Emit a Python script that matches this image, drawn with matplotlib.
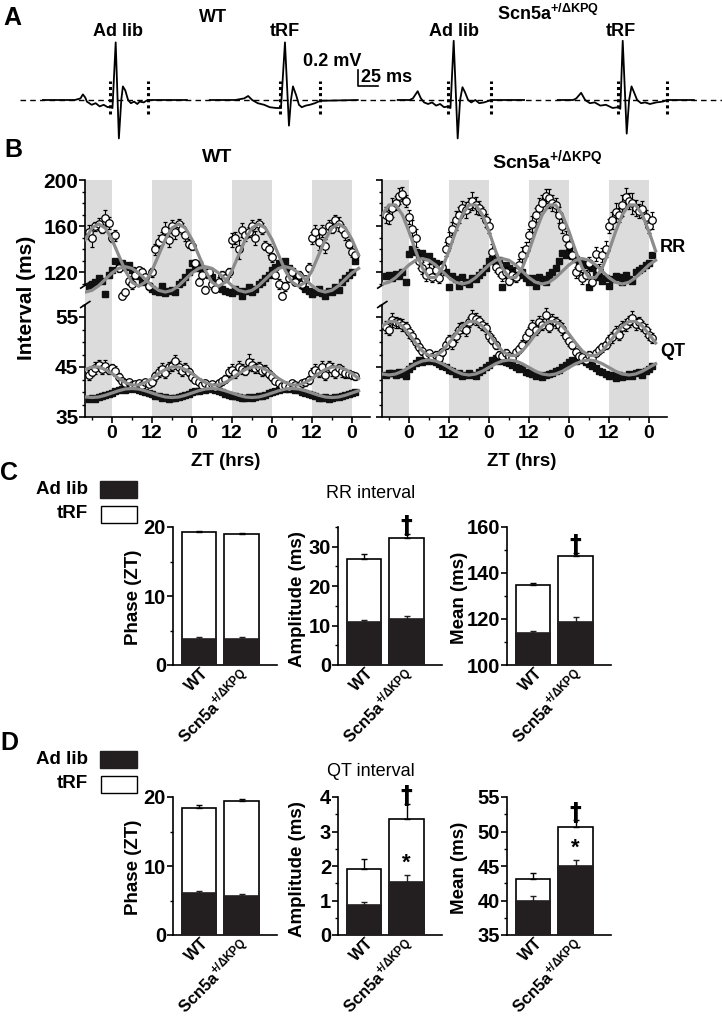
import numpy as np
import matplotlib
matplotlib.use("Agg")
import matplotlib.pyplot as plt
from matplotlib.patches import Rectangle
from matplotlib.ticker import FixedLocator
from matplotlib.transforms import blended_transform_factory, ScaledTranslation

W, H = 722, 1017
plt.rcParams['font.family'] = ['Liberation Sans', 'DejaVu Sans']
plt.rcParams['font.weight'] = 'bold'
plt.rcParams['axes.linewidth'] = 1.2
plt.rcParams['mathtext.fontset'] = 'custom'
plt.rcParams['mathtext.default'] = 'bf'
plt.rcParams['mathtext.bf'] = 'Liberation Sans:bold'
plt.rcParams['mathtext.rm'] = 'Liberation Sans:bold'
NARROW = ['Liberation Sans Narrow', 'Liberation Sans', 'DejaVu Sans']
SCN = 'Scn5a$^{+/ΔKPQ}$'
GROUPS = ['WT', SCN]

# ---- panel A: one averaged beat per group/condition (ms from R peak, mV) ----
ECG_MS = [
    [-91, -51, -44, -41, -38, -36, -30, -25, -20, -15, -10, -6, -4, 0, 4, 7, 9, 12, 15.5, 19, 23, 27, 30, 35, 40, 89],
    [-94, -62, -51, -46, -41, -34, -26, -19, -11, -5, 0, 5, 7.5, 10, 14, 17.5, 21, 26, 31, 37.5, 44, 91],
    [-70, -55, -51, -45, -41, -37, -32, -27, -22, -17, -12, -7, -4, 0, 5, 8, 11, 14, 18, 22, 27, 32, 38, 47, 88],
    [-81, -62, -58, -52, -47, -41, -35, -28, -21, -12.5, -6, -3, 0, 5, 8, 11, 14, 18, 23, 28, 34, 42, 50, 56, 89],
]
ECG_MV = [
    [0, 0, 0.02, 0.07, 0.03, -0.02, -0.06, -0.04, -0.08, -0.06, -0.09, -0.08, -0.1, 0.72, -0.48, 0.0, 0.17, 0.12, 0.0, -0.04, -0.02, -0.05, -0.02, -0.03, 0.0, 0],
    [0, 0, 0.02, 0.05, 0.0, -0.04, -0.06, -0.09, -0.1, -0.1, 0.72, -0.32, 0.0, 0.17, 0.06, -0.06, -0.09, -0.07, -0.06, -0.04, -0.01, 0],
    [0, 0, 0.02, 0.11, 0.02, -0.03, -0.05, -0.03, -0.07, -0.05, -0.09, -0.08, -0.1, 0.74, -0.48, 0.0, 0.16, 0.1, 0.0, -0.03, 0.0, -0.04, -0.03, 0.0, 0],
    [0, 0, 0.02, 0.09, 0.0, -0.04, -0.03, -0.07, -0.06, -0.1, -0.09, -0.11, 0.74, -0.42, 0.0, 0.17, 0.1, 0.0, -0.04, -0.03, -0.05, -0.03, -0.02, 0.0, 0],
]
QT_ON = [-7, -6, -7, -6]
QT_END = [40, 44, 47, 55.5]
ECG_LABELS = ['Ad lib', 'tRF', 'Ad lib', 'tRF']

# ---- panel B: hourly means, ZT hours relative to first light onset ----
HOURS = np.arange(-7, 74)
WT_RR_TRF = [155, 150, 160, 162, 158, 167, 163,
             150, 152, 124, 100, 103, 113, 110, 118, 122, 120, 116, 108,
             120, 140, 146, 150, 157, 148, 160, 155, 162, 158, 152, 145,
             143, 128, 112, 118, 105, 120, 110, 106, 112, 118, 115, 120,
             148, 150, 140, 157, 152, 155, 160, 150, 162, 158, 143, 140,
             133, 118, 110, 100, 108, 115, 120, 112, 118, 110, 114, 124,
             150, 155, 146, 156, 143, 160, 158, 165, 162, 158, 153, 145,
             138, 135]
WT_RR_TRF_ERR = [6, 8, 4, 5, 4, 7, 5,
                 4, 5, 4, 3, 3, 4, 4, 3, 3, 4, 3, 3,
                 4, 5, 6, 5, 7, 6, 5, 6, 4, 5, 5, 4,
                 4, 3, 3, 4, 3, 3, 4, 3, 4, 3, 3, 4,
                 6, 5, 8, 6, 5, 4, 5, 6, 4, 5, 4, 5,
                 4, 3, 4, 3, 4, 3, 4, 3, 3, 4, 3, 4,
                 5, 6, 7, 5, 6, 5, 4, 5, 6, 4, 5, 4,
                 5, 4]
WT_RR_ADLIB = [108, 110, 112, 115, 113, 101, 118,
               122, 130, 127, 128, 125, 126, 122, 118, 117, 112, 113, 108,
               106, 104, 103, 108, 102, 104, 105, 103, 110, 112, 116, 120,
               128, 124, 127, 122, 120, 118, 116, 110, 108, 106, 104, 103,
               102, 106, 104, 100, 104, 107, 103, 106, 110, 112, 115, 118,
               122, 125, 128, 127, 130, 124, 121, 117, 113, 109, 106, 104,
               101, 103, 106, 102, 100, 104, 103, 107, 105, 112, 115, 118,
               120, 130]
WT_QT_TRF = [43.5, 44.0, 44.8, 45.5, 44.6, 45.3, 44.5,
             44.8, 44.2, 43.0, 42.2, 41.8, 42.0, 41.5, 41.6, 41.8, 41.4, 42.0, 41.7,
             42.0, 43.2, 44.0, 44.6, 43.8, 45.0, 45.3, 46.2, 45.0, 44.2, 44.8, 44.0,
             43.0, 42.5, 42.0, 41.5, 41.8, 41.2, 41.6, 41.0, 41.8, 42.2, 42.6, 44.0,
             44.5, 43.8, 45.0, 44.6, 44.3, 46.0, 45.4, 44.8, 45.0, 44.2, 44.5, 43.6,
             43.0, 42.2, 41.8, 41.2, 41.5, 41.0, 41.8, 41.5, 41.2, 41.8, 42.0, 42.5,
             43.8, 44.5, 44.0, 45.0, 43.5, 45.2, 44.6, 43.8, 44.8, 44.2, 43.8, 43.6,
             43.4, 43.2]
WT_QT_TRF_ERR = [1.0, 0.8, 1.2, 1.0, 0.9, 1.1, 0.8,
                 0.9, 1.0, 0.8, 0.6, 0.7, 0.6, 0.5, 0.6, 0.5, 0.6, 0.5, 0.6,
                 0.7, 0.9, 1.0, 1.2, 0.9, 1.1, 1.0, 1.3, 1.2, 0.9, 1.0, 0.8,
                 0.8, 0.7, 0.6, 0.5, 0.6, 0.5, 0.6, 0.5, 0.6, 0.7, 0.8, 1.0,
                 1.1, 0.9, 1.2, 1.0, 0.9, 1.6, 1.2, 1.0, 1.1, 0.9, 1.0, 0.8,
                 0.8, 0.6, 0.7, 0.5, 0.6, 0.5, 0.6, 0.5, 0.6, 0.6, 0.7, 0.8,
                 1.0, 1.1, 0.9, 1.2, 1.0, 1.1, 1.3, 1.0, 0.9, 1.1, 0.9, 0.8,
                 0.7, 0.7]
WT_QT_ADLIB = [38.6, 38.9, 38.7, 39.0, 39.2, 39.4, 39.7,
               39.8, 40.2, 40.4, 40.6, 40.5, 40.8, 40.6, 40.9, 40.4, 40.3, 40.0, 39.9,
               39.6, 39.3, 39.2, 38.9, 39.0, 38.7, 38.9, 38.8, 39.1, 39.3, 39.4, 39.7,
               40.0, 40.2, 40.3, 40.6, 40.5, 40.8, 40.6, 40.4, 40.2, 40.0, 39.7, 39.5,
               39.2, 39.3, 39.0, 38.8, 38.9, 39.0, 38.8, 39.1, 39.3, 39.2, 39.5, 39.8,
               40.0, 40.3, 40.5, 40.8, 40.6, 40.7, 40.9, 40.5, 40.4, 40.1, 39.8, 39.6,
               39.4, 39.2, 38.9, 38.8, 39.0, 38.7, 38.9, 39.1, 39.0, 39.3, 39.4, 39.6,
               39.8, 40.0]
KPQ_RR_TRF = [170, 168, 176, 180, 186, 188, 182,
              168, 158, 150, 130, 124, 118, 121, 116, 122, 115, 125, 140,
              148, 158, 165, 170, 176, 174, 178, 182, 178, 176, 172, 165,
              160, 138, 125, 121, 118, 120, 113, 118, 116, 126, 135, 140,
              152, 162, 170, 176, 180, 186, 184, 180, 178, 170, 160, 150,
              144, 135, 120, 125, 115, 118, 128, 112, 136, 122, 135, 140,
              160, 165, 172, 170, 178, 185, 182, 180, 176, 173, 175, 168,
              160, 165]
KPQ_RR_TRF_ERR = [7, 6, 8, 6, 7, 6, 5,
                  6, 7, 8, 6, 5, 5, 6, 4, 5, 4, 5, 6,
                  7, 6, 8, 7, 6, 7, 6, 8, 7, 6, 5, 6,
                  6, 7, 5, 4, 5, 5, 4, 5, 4, 6, 7, 6,
                  6, 7, 6, 8, 7, 6, 8, 7, 6, 7, 6, 6,
                  5, 6, 5, 4, 5, 4, 5, 4, 6, 5, 6, 7,
                  6, 7, 8, 6, 9, 8, 7, 9, 7, 6, 7, 6,
                  6, 7]
KPQ_RR_ADLIB = [117, 118, 115, 119, 117, 120, 112,
                136, 140, 138, 136, 137, 133, 134, 130, 128, 126, 122, 120,
                107, 117, 114, 108, 116, 112, 110, 115, 114, 118, 120, 124,
                130, 132, 128, 131, 107, 126, 124, 122, 116, 118, 120, 115,
                112, 115, 108, 116, 114, 112, 118, 120, 124, 130, 137, 135,
                138, 134, 132, 130, 128, 126, 107, 124, 118, 116, 113, 115,
                108, 114, 117, 116, 112, 118, 114, 113, 120, 122, 124, 126,
                128, 135]
KPQ_QT_TRF = [53.0, 52.5, 54.5, 54.0, 53.8, 53.5, 53.0,
              52.0, 51.2, 50.0, 49.0, 48.2, 47.5, 47.8, 47.0, 47.5, 46.8, 48.0, 49.5,
              50.5, 49.8, 51.2, 52.5, 53.0, 52.4, 54.0, 55.0, 54.6, 54.2, 53.5, 52.8,
              51.2, 50.5, 49.5, 47.5, 47.3, 47.8, 47.2, 46.8, 48.0, 48.6, 49.5, 51.0,
              52.0, 53.2, 52.5, 54.0, 53.5, 55.5, 53.0, 54.5, 54.0, 53.5, 52.6, 51.2,
              50.2, 49.5, 48.0, 47.2, 47.0, 46.5, 47.4, 46.8, 47.8, 48.4, 49.0, 49.5,
              50.5, 51.0, 52.0, 51.5, 53.0, 53.5, 54.2, 54.8, 53.6, 54.0, 53.2, 52.5,
              51.5, 50.8]
KPQ_QT_TRF_ERR = [1.2, 1.0, 1.4, 1.1, 1.0, 1.2, 1.0,
                  1.1, 1.0, 0.9, 0.8, 0.7, 0.8, 0.7, 0.6, 0.7, 0.6, 0.7, 0.8,
                  1.0, 1.1, 1.2, 1.3, 1.1, 1.2, 1.0, 1.4, 1.2, 1.1, 1.0, 1.1,
                  1.0, 0.9, 0.8, 0.7, 0.6, 0.8, 0.7, 0.6, 0.7, 0.8, 0.9, 1.0,
                  1.1, 1.2, 1.0, 1.3, 1.1, 1.4, 1.0, 1.2, 1.1, 1.0, 1.2, 1.0,
                  0.9, 0.8, 0.7, 0.8, 0.6, 0.7, 0.8, 0.7, 0.6, 0.8, 0.9, 0.8,
                  1.0, 1.1, 1.2, 1.0, 1.3, 1.2, 1.1, 1.4, 1.2, 1.1, 1.0, 1.2,
                  1.1, 1.0]
KPQ_QT_ADLIB = [43.5, 43.8, 43.9, 43.4, 44.0, 43.6, 43.2,
                44.6, 45.2, 45.8, 46.4, 46.0, 46.6, 46.2, 46.8, 46.0, 45.7, 45.2, 45.0,
                44.5, 44.2, 43.6, 43.8, 43.2, 43.5, 43.9, 43.4, 43.2, 44.0, 44.4, 45.0,
                45.5, 46.5, 46.8, 46.2, 46.5, 46.0, 45.8, 45.4, 45.0, 44.6, 44.8, 44.0,
                43.8, 43.6, 43.2, 43.4, 43.0, 43.5, 43.6, 43.8, 44.2, 44.5, 45.0, 45.5,
                46.0, 46.4, 46.2, 46.8, 46.5, 46.0, 45.6, 45.2, 44.8, 44.2, 44.0, 43.6,
                43.2, 43.4, 42.9, 43.5, 43.0, 43.3, 43.6, 43.2, 43.8, 44.0, 43.5, 44.2,
                44.6, 45.3]

# cosinor fits, one 24 h cycle read at ZT 0, 2, ..., 22
WT_RR_TRF_FIT = [148.5, 135, 121.5, 111.6, 108, 111.6, 121.5, 135, 148.5, 158.4, 162, 158.4]
WT_RR_ADLIB_FIT = [119.5, 123.5, 125, 123.5, 119.5, 114, 108.5, 104.5, 103, 104.5, 108.5, 114]
KPQ_RR_TRF_FIT = [155.4, 138.6, 124, 115.6, 115.6, 124, 138.6, 155.4, 170, 178.4, 178.4, 170]
KPQ_RR_ADLIB_FIT = [126.5, 130.5, 132, 130.5, 126.5, 121, 115.5, 111.5, 110, 111.5, 115.5, 121]
WT_QT_TRF_FIT = [43.7, 42.7, 41.9, 41.4, 41.4, 41.9, 42.7, 43.7, 44.5, 45.0, 45.0, 44.5]
WT_QT_ADLIB_FIT = [39.8, 40.25, 40.6, 40.7, 40.6, 40.25, 39.8, 39.35, 39.0, 38.9, 39.0, 39.35]
KPQ_QT_TRF_FIT = [51.6, 49.8, 48.2, 47.3, 47.3, 48.2, 49.8, 51.6, 53.2, 54.1, 54.1, 53.2]
KPQ_QT_ADLIB_FIT = [44.9, 45.65, 46.2, 46.4, 46.2, 45.65, 44.9, 44.15, 43.6, 43.4, 43.6, 44.15]
FIT_T = np.arange(-8, 75, 2)
DARK = [(-12, 0), (12, 24), (36, 48), (60, 72)]

# ---- panels C and D: cosinor parameters (WT, Scn5a) ----
RR_PHASE_ADLIB, RR_PHASE_ADLIB_ERR = [3.8, 3.75], [0.3, 0.35]
RR_PHASE_TRF, RR_PHASE_TRF_ERR = [19.25, 18.95], [0.2, 0.2]
RR_AMP_ADLIB, RR_AMP_ADLIB_ERR = [11.0, 11.6], [0.5, 0.8]
RR_AMP_TRF, RR_AMP_TRF_ERR = [27.0, 32.3], [1.2, 0.9]
RR_MEAN_ADLIB, RR_MEAN_ADLIB_ERR = [114.0, 118.9], [0.9, 1.8]
RR_MEAN_TRF, RR_MEAN_TRF_ERR = [134.7, 147.3], [0.8, 1.4]
QT_PHASE_ADLIB, QT_PHASE_ADLIB_ERR = [6.05, 5.6], [0.35, 0.4]
QT_PHASE_TRF, QT_PHASE_TRF_ERR = [18.35, 19.4], [0.45, 0.25]
QT_AMP_ADLIB, QT_AMP_ADLIB_ERR = [0.87, 1.55], [0.1, 0.19]
QT_AMP_TRF, QT_AMP_TRF_ERR = [1.92, 3.37], [0.27, 0.42]
QT_MEAN_ADLIB, QT_MEAN_ADLIB_ERR = [39.9, 44.95], [0.75, 0.95]
QT_MEAN_TRF, QT_MEAN_TRF_ERR = [43.05, 50.7], [1.0, 0.9]

fig = plt.figure(figsize=(W / 100, H / 100), dpi=100)


def box(x0, y0, x1, y1):
    return [x0 / W, 1 - y1 / H, (x1 - x0) / W, (y1 - y0) / H]


def label(x, y, s, size, **kw):
    kw.setdefault('ha', 'center')
    kw.setdefault('va', 'center')
    fig.text(x / W, 1 - y / H, s, fontsize=size, **kw)


# ================= A =================
MS_PER_PX = 1.25
R_POS = [144.6, 356.2, 567.1, 778.4]
axA = fig.add_axes(box(0, 0, W, 150))
axA.set_xlim(0, W * MS_PER_PX)
axA.set_ylim(-50 / 80, 100 / 80)
axA.axis('off')
axA.axhline(0, xmin=20 / W, xmax=1, color='black', lw=1, ls=(0, (4, 3)), zorder=1)
for pos, ms, mv, qon, tend in zip(R_POS, ECG_MS, ECG_MV, QT_ON, QT_END):
    axA.plot(np.asarray(ms) + pos, mv, color='black', lw=1.3, zorder=3)
    axA.vlines([pos + qon, pos + tend], -0.18, 0.24, colors='black', lw=2.2,
               linestyles=(0, (1, 1)), zorder=2)
axA.plot([447.5, 447.5, 472.5], [0.375, 0.175, 0.175], color='black', lw=1.2)

label(12, 18, 'A', 18)
label(213, 17, 'WT', 13)
label(548, 14, SCN, 13)
for x, s in zip([118, 285, 454, 621], ECG_LABELS):
    label(x, 32, s, 13)
label(332, 61, '0.2 mV', 13)
label(361, 77, '25 ms', 13, ha='left')

# ================= B =================
label(13, 150, 'B', 18)


def zt_pair(x0, x1, show_labels):
    lo = fig.add_axes(box(x0, 296, x1, 417))
    up = fig.add_axes(box(x0, 180, x1, 296), sharex=lo)
    for ax in (lo, up):
        ax.set_xlim(-8, 77.5)
        ax.patch.set_visible(False)
        for a, b in DARK:
            ax.axvspan(a, b, color='#dcdcdc', lw=0, zorder=0)
        ax.spines['top'].set_visible(False)
        ax.spines['right'].set_visible(False)
        ax.tick_params(axis='y', which='major', length=4, width=1.2, pad=1,
                       labelsize=15, labelleft=show_labels)
        ax.tick_params(axis='y', which='minor', length=2.5, width=1)
    up.spines['bottom'].set_visible(False)
    up.tick_params(axis='x', which='both', bottom=False, labelbottom=False)
    up.set_ylim(99.6, 200)
    lo.set_ylim(35, 59.2)
    up.spines['left'].set_bounds(109, 200)
    lo.spines['left'].set_bounds(35, 57.5)
    up.yaxis.set_major_locator(FixedLocator([120, 160, 200]))
    up.yaxis.set_minor_locator(FixedLocator([110, 130, 140, 150, 170, 180, 190]))
    lo.yaxis.set_major_locator(FixedLocator([35, 45, 55]))
    lo.yaxis.set_minor_locator(FixedLocator([37.5, 40, 42.5, 47.5, 50, 52.5, 57.5]))
    lo.set_xticks(range(0, 73, 12))
    lo.set_xticklabels(['0', '12', '0', '12', '0', '12', '0'])
    lo.xaxis.set_minor_locator(FixedLocator([-6, 6, 18, 30, 42, 54, 66]))
    lo.tick_params(axis='x', which='major', length=4, width=1.2, pad=2, labelsize=14)
    lo.tick_params(axis='x', which='minor', length=2.5, width=1)
    for ax, yv, dy in [(up, 109, 2.6), (lo, 57.5, 0.6)]:
        tr = blended_transform_factory(ax.transAxes, ax.transData)
        ax.plot([-0.016, 0.016], [yv - dy, yv + dy], transform=tr, color='black',
                lw=1.2, clip_on=False)
    return up, lo


def draw(ax, trf, trf_err, trf_fit, adlib, adlib_fit):
    idx = ((FIT_T % 24) // 2).astype(int)
    ax.plot(HOURS, adlib, 's', color='#111111', ms=4.8, zorder=2, clip_on=False)
    ax.errorbar(HOURS, trf, yerr=trf_err, fmt='o', mfc='white', mec='black', ms=5.4,
                mew=0.9, ecolor='black', elinewidth=0.8, capsize=1.5, zorder=3, clip_on=False)
    ax.plot(FIT_T, np.asarray(adlib_fit)[idx], color='#8c8c8c', lw=2.3, zorder=4)
    ax.plot(FIT_T, np.asarray(trf_fit)[idx], color='#8c8c8c', lw=2.3, zorder=4)


wt_up, wt_lo = zt_pair(85.3, 370.3, True)
k_up, k_lo = zt_pair(382.3, 667.3, False)
draw(wt_up, WT_RR_TRF, WT_RR_TRF_ERR, WT_RR_TRF_FIT, WT_RR_ADLIB, WT_RR_ADLIB_FIT)
draw(wt_lo, WT_QT_TRF, WT_QT_TRF_ERR, WT_QT_TRF_FIT, WT_QT_ADLIB, WT_QT_ADLIB_FIT)
draw(k_up, KPQ_RR_TRF, KPQ_RR_TRF_ERR, KPQ_RR_TRF_FIT, KPQ_RR_ADLIB, KPQ_RR_ADLIB_FIT)
draw(k_lo, KPQ_QT_TRF, KPQ_QT_TRF_ERR, KPQ_QT_TRF_FIT, KPQ_QT_ADLIB, KPQ_QT_ADLIB_FIT)

label(217, 158, 'WT', 14)
label(547, 160, SCN, 14)
label(26, 298, 'Interval (ms)', 15, rotation=90)
label(226, 461, 'ZT (hrs)', 13.5)
label(522, 461, 'ZT (hrs)', 13.5)
label(673, 247, 'RR', 13)
label(673, 351, 'QT', 13)

# ================= C / D =================
BAR_X = np.arange(2)


def bar_panel(x0, y0, adlib, adlib_err, trf, trf_err, ylim, major, minor,
              dagger=False, star=False):
    ax = fig.add_axes(box(x0, y0, x0 + 104, y0 + 138))
    ax.set_xlim(-0.612, 1.835)
    ax.set_ylim(*ylim)
    ax.bar(BAR_X, trf, width=0.82, color='white', edgecolor='black', lw=1.2, zorder=2)
    ax.errorbar(BAR_X, trf, yerr=[np.zeros(2), trf_err], fmt='none', ecolor='black',
                elinewidth=1, capsize=2.5, capthick=1, zorder=2)
    ax.bar(BAR_X, adlib, width=0.82, color='#231f20', edgecolor='#231f20', lw=1.2, zorder=3)
    ax.errorbar(BAR_X, adlib, yerr=[np.zeros(2), adlib_err], fmt='none', ecolor='#231f20',
                elinewidth=1, capsize=2.5, capthick=1, zorder=3)
    ax.spines['top'].set_visible(False)
    ax.spines['right'].set_visible(False)
    ax.yaxis.set_major_locator(FixedLocator(major))
    ax.yaxis.set_minor_locator(FixedLocator(minor))
    ax.tick_params(axis='y', which='major', length=4, width=1.2, pad=1)
    ax.tick_params(axis='y', which='minor', length=2.5, width=1)
    for t in ax.get_yticklabels():
        t.set_family(NARROW)
        t.set_fontsize(14.5)
    ax.set_xticks(BAR_X)
    ax.set_xticklabels(GROUPS, rotation=45, ha='right', va='top', fontsize=12)
    ax.tick_params(axis='x', length=0, pad=0.5)
    for t in ax.get_xticklabels():
        t.set_transform(t.get_transform() + ScaledTranslation(0.12, 0, fig.dpi_scale_trans))
    if dagger:
        ax.annotate('†', xy=(1, trf[1] + trf_err[1]), xytext=(0, -3),
                    textcoords='offset points', ha='center', va='bottom', fontsize=17,
                    family='DejaVu Sans', fontweight='bold')
    if star:
        ax.annotate('*', xy=(1, adlib[1] + adlib_err[1]), xytext=(0, 1),
                    textcoords='offset points', ha='center', va='bottom', fontsize=16)
    return ax


def legend_block(y):
    label(88, y + 8, 'Ad lib', 13.5, ha='right')
    label(88, y + 33, 'tRF', 13.5, ha='right')
    fig.add_artist(Rectangle((100 / W, 1 - (y + 17) / H), 37 / W, 17 / H,
                             transform=fig.transFigure, facecolor='#231f20',
                             edgecolor='#231f20', lw=1))
    fig.add_artist(Rectangle((101 / W, 1 - (y + 42) / H), 36 / W, 17 / H,
                             transform=fig.transFigure, facecolor='white',
                             edgecolor='black', lw=1))


for y0, letter, title, ph, amp, mean in [
    (527, 'C', 'RR interval',
     (RR_PHASE_ADLIB, RR_PHASE_ADLIB_ERR, RR_PHASE_TRF, RR_PHASE_TRF_ERR),
     (RR_AMP_ADLIB, RR_AMP_ADLIB_ERR, RR_AMP_TRF, RR_AMP_TRF_ERR),
     (RR_MEAN_ADLIB, RR_MEAN_ADLIB_ERR, RR_MEAN_TRF, RR_MEAN_TRF_ERR)),
    (797, 'D', 'QT interval',
     (QT_PHASE_ADLIB, QT_PHASE_ADLIB_ERR, QT_PHASE_TRF, QT_PHASE_TRF_ERR),
     (QT_AMP_ADLIB, QT_AMP_ADLIB_ERR, QT_AMP_TRF, QT_AMP_TRF_ERR),
     (QT_MEAN_ADLIB, QT_MEAN_ADLIB_ERR, QT_MEAN_TRF, QT_MEAN_TRF_ERR)),
]:
    rr = letter == 'C'
    label(9, y0 - 54, letter, 18, family=NARROW)
    legend_block(y0 - 46)
    label(371, y0 - 33 if rr else y0 - 25, title, 13, fontweight='normal')
    bar_panel(173, y0, *ph, ylim=(0, 20), major=[0, 10, 20], minor=[5, 15])
    if rr:
        bar_panel(338, y0, *amp, ylim=(0, 35), major=[0, 10, 20, 30],
                  minor=[5, 15, 25, 35], dagger=True)
        bar_panel(507, y0, *mean, ylim=(100, 160), major=[100, 120, 140, 160],
                  minor=[110, 130, 150], dagger=True)
    else:
        bar_panel(338, y0, *amp, ylim=(0, 4), major=[0, 1, 2, 3, 4],
                  minor=[0.5, 1.5, 2.5, 3.5], dagger=True, star=True)
        bar_panel(507, y0, *mean, ylim=(35, 55), major=[35, 40, 45, 50, 55],
                  minor=[37.5, 42.5, 47.5, 52.5], dagger=True, star=True)
    label(133, y0 + 70, 'Phase (ZT)', 13.5, rotation=90)
    label(297, y0 + 72, 'Amplitude (ms)', 13.5, rotation=90)
    label(459, y0 + 71, 'Mean (ms)', 13.5, rotation=90)

fig.savefig('out.png', dpi=100)
